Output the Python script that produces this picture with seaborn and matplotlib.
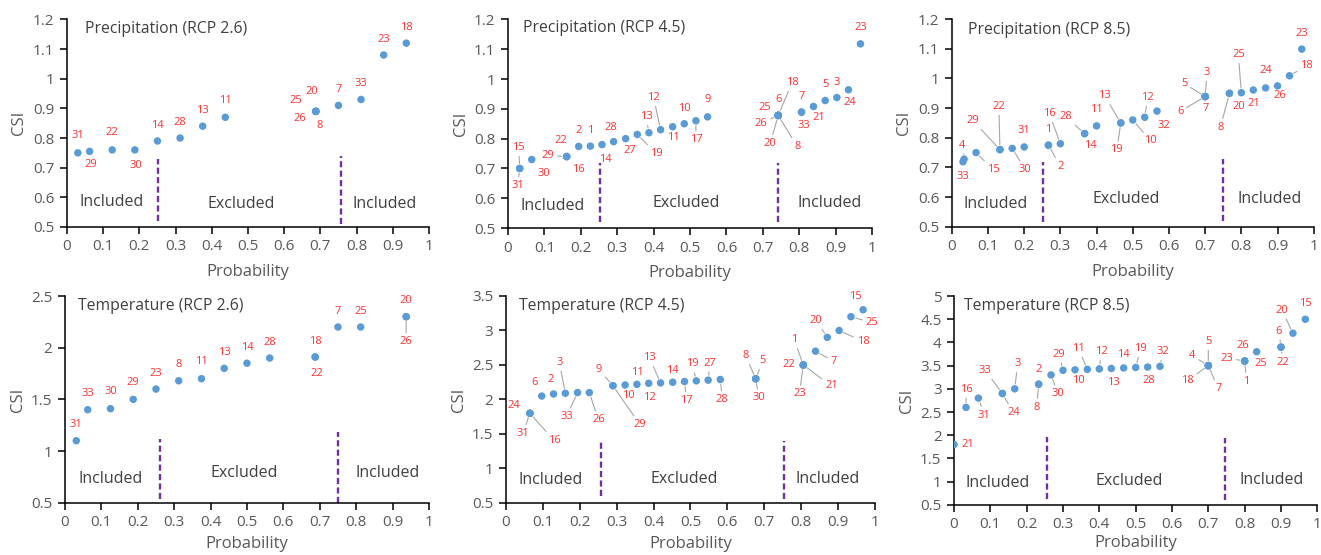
import matplotlib
matplotlib.use("Agg")
import matplotlib.pyplot as plt
import seaborn as sns
import pandas as pd
from matplotlib.ticker import FuncFormatter, MultipleLocator

sns.set_style("ticks")
plt.rcParams['font.family'] = ['Open Sans', 'DejaVu Sans']

# ---------------- data ----------------
# Precipitation RCP 2.6
P26_PROB = [0.03, 0.0625, 0.125, 0.1875, 0.25, 0.3125, 0.375, 0.4375, 0.6875, 0.6875, 0.6875, 0.6875, 0.75, 0.8125, 0.875, 0.9375]
P26_CSI = [0.75, 0.755, 0.76, 0.76, 0.79, 0.80, 0.84, 0.87, 0.89, 0.89, 0.89, 0.89, 0.91, 0.93, 1.08, 1.12]
P26_IDS = [31, 29, 22, 30, 14, 28, 13, 11, 25, 20, 26, 8, 7, 33, 23, 18]

# Precipitation RCP 4.5
P45_PROB = [0.032, 0.032, 0.065, 0.161, 0.161, 0.161, 0.194, 0.226, 0.258, 0.290, 0.323, 0.355, 0.387, 0.419, 0.452, 0.484,
            0.516, 0.548, 0.742, 0.742, 0.742, 0.742, 0.742, 0.742, 0.806, 0.806, 0.839, 0.871, 0.903, 0.935, 0.968]
P45_CSI = [0.70, 0.70, 0.73, 0.74, 0.74, 0.74, 0.774, 0.775, 0.78, 0.79, 0.80, 0.814, 0.82, 0.83, 0.84, 0.85,
           0.86, 0.873, 0.878, 0.878, 0.878, 0.878, 0.878, 0.878, 0.889, 0.889, 0.908, 0.928, 0.938, 0.964, 1.118]
P45_IDS = [15, 31, 30, 22, 29, 16, 2, 1, 14, 28, 27, 19, 13, 12, 11, 10, 17, 9, 25, 6, 18, 26, 20, 8, 7, 33, 21, 5, 3, 24, 23]

# Precipitation RCP 8.5
P85_PROB = [0.031, 0.034, 0.067, 0.133, 0.133, 0.167, 0.2, 0.267, 0.267, 0.3, 0.367, 0.367, 0.4, 0.467, 0.467,
            0.5, 0.533, 0.567, 0.7, 0.7, 0.7, 0.7, 0.767, 0.767, 0.8, 0.833, 0.867, 0.9, 0.933, 0.967]
P85_CSI = [0.719, 0.728, 0.75, 0.76, 0.76, 0.764, 0.769, 0.775, 0.775, 0.78, 0.814, 0.814, 0.84, 0.85, 0.85,
           0.86, 0.869, 0.89, 0.939, 0.939, 0.939, 0.939, 0.95, 0.95, 0.952, 0.961, 0.968, 0.975, 1.009, 1.099]
P85_IDS = [33, 4, 15, 29, 22, 30, 31, 1, 2, 16, 28, 14, 11, 13, 19, 10, 12, 32, 5, 3, 6, 7, 8, 20, 25, 21, 24, 26, 18, 23]

# Temperature RCP 2.6
T26_PROB = [0.031, 0.0625, 0.125, 0.1875, 0.25, 0.3125, 0.375, 0.4375, 0.5, 0.5625, 0.6875, 0.6875, 0.75, 0.8125, 0.9375, 0.9375]
T26_CSI = [1.1, 1.4, 1.41, 1.5, 1.6, 1.68, 1.7, 1.8, 1.85, 1.9, 1.91, 1.91, 2.2, 2.2, 2.3, 2.3]
T26_IDS = [31, 33, 30, 29, 23, 8, 11, 13, 14, 28, 18, 22, 7, 25, 20, 26]

# Temperature RCP 4.5
T45_PROB = [0.065, 0.065, 0.065, 0.097, 0.129, 0.161, 0.194, 0.226, 0.290, 0.290, 0.323, 0.355, 0.387, 0.419, 0.452, 0.484,
            0.516, 0.548, 0.581, 0.677, 0.677, 0.677, 0.806, 0.806, 0.806, 0.806, 0.839, 0.871, 0.903, 0.935, 0.968]
T45_CSI = [1.8, 1.8, 1.8, 2.05, 2.08, 2.09, 2.1, 2.1, 2.2, 2.2, 2.21, 2.22, 2.235, 2.24, 2.25, 2.26,
           2.27, 2.28, 2.29, 2.3, 2.3, 2.3, 2.5, 2.5, 2.5, 2.5, 2.7, 2.9, 3.0, 3.2, 3.3]
T45_IDS = [24, 31, 16, 6, 2, 3, 33, 26, 9, 29, 10, 11, 12, 13, 14, 17, 19, 27, 28, 8, 5, 30, 1, 22, 23, 21, 7, 20, 18, 25, 15]

# Temperature RCP 8.5
T85_PROB = [0.0, 0.033, 0.067, 0.133, 0.133, 0.167, 0.233, 0.233, 0.267, 0.3, 0.333, 0.367, 0.4, 0.433, 0.467,
            0.5, 0.533, 0.567, 0.7, 0.7, 0.7, 0.7, 0.8, 0.8, 0.8, 0.833, 0.9, 0.9, 0.933, 0.967]
T85_CSI = [1.8, 2.6, 2.8, 2.9, 2.9, 3.0, 3.1, 3.1, 3.3, 3.4, 3.41, 3.42, 3.43, 3.44, 3.45,
           3.46, 3.47, 3.485, 3.5, 3.5, 3.5, 3.5, 3.6, 3.6, 3.6, 3.8, 3.9, 3.9, 4.2, 4.5]
T85_IDS = [21, 16, 31, 33, 24, 3, 2, 8, 30, 29, 10, 11, 12, 13, 14, 19, 28, 32, 5, 4, 18, 7, 26, 23, 1, 25, 6, 22, 20, 15]

TITLES = ["Precipitation (RCP 2.6)", "Precipitation (RCP 4.5)", "Precipitation (RCP 8.5)",
          "Temperature (RCP 2.6)", "Temperature (RCP 4.5)", "Temperature (RCP 8.5)"]
ZONE_TEXT = ["Included", "Excluded", "Included"]

# ---------------- layout (label offsets in pixels, leader flag) ----------------
P26_LAB = [(0, 17, 0), (1, -13, 0), (0, 17, 0), (1, -16, 0), (0, 16, 0), (0, 16, 0), (0, 16, 0), (0, 17, 0),
           (-20, 11, 0), (-4, 20, 0), (-16, -7, 0), (4, -14, 0), (0, 16, 0), (0, 16, 0), (0, 16, 0), (0, 16, 0)]
P45_LAB = [(-1, 21, 1), (-2, -17, 1), (12, -14, 0), (-6, 16, 0), (-19, 1, 1), (12, -13, 0), (0, 16, 0), (0, 16, 0),
           (3, -15, 0), (-3, 14, 0), (4, -12, 0), (19, -19, 1), (-3, 16, 1), (-7, 32, 1), (1, -11, 0), (0, 15, 0),
           (0, -19, 1), (0, 17, 0), (-13, 8, 0), (0, 16, 0), (14, 33, 1), (-17, -8, 1), (-8, -28, 1), (19, -31, 1),
           (0, 16, 0), (2, -13, 0), (5, -11, 0), (0, 16, 0), (0, 15, 0), (1, -13, 0), (0, 16, 0)]
P85_LAB = [(0, -15, 0), (-2, 14, 1), (17, -17, 1), (-27, 29, 1), (-1, 43, 1), (13, -21, 1), (0, 16, 0), (0, 16, 0),
           (12, -21, 1), (-11, 30, 1), (-19, 17, 1), (6, -12, 0), (0, 16, 0), (-16, 27, 1), (-4, -27, 1), (18, -21, 1),
           (3, 20, 1), (7, -14, 0), (-21, 13, 1), (2, 24, 1), (-25, -15, 1), (1, -12, 0), (-9, -34, 1), (9, -13, 0),
           (-3, 38, 1), (1, -13, 0), (0, 17, 0), (2, -10, 0), (17, 10, 1), (0, 16, 0)]
T26_LAB = [(0, 16, 0), (0, 16, 0), (0, 17, 0), (0, 17, 0), (0, 16, 0), (0, 16, 0), (0, 17, 0), (0, 16, 0),
           (0, 16, 0), (0, 16, 0), (0, 16, 0), (2, -16, 0), (0, 16, 0), (0, 16, 0), (0, 16, 0), (0, -25, 1)]
T45_LAB = [(-16, 8, 0), (-7, -20, 1), (24, -27, 1), (-7, 14, 0), (-3, 14, 0), (-6, 31, 1), (-11, -24, 1), (9, -27, 1),
           (-14, 16, 1), (27, -39, 1), (3, -11, 0), (0, 12, 0), (1, -14, 0), (-11, 25, 1), (0, 12, 0), (2, -19, 1),
           (-4, 17, 1), (2, 17, 1), (2, -20, 1), (-10, 23, 1), (7, 18, 1), (3, -19, 1), (-9, 25, 1), (-15, 0, 0),
           (-4, -29, 1), (28, -21, 1), (18, -10, 1), (-11, 17, 1), (24, -11, 1), (21, -6, 1), (-8, 13, 0)]
T85_LAB = [(14, 0, 0), (0, 18, 1), (6, -17, 1), (-17, 23, 1), (11, -19, 1), (3, 25, 1), (0, 15, 0), (-2, -23, 1),
           (7, -19, 1), (-4, 16, 1), (3, -11, 0), (-9, 21, 1), (2, 17, 1), (2, -14, 0), (0, 13, 0), (5, 19, 1),
           (1, -13, 0), (3, 15, 1), (0, 24, 1), (-16, 10, 1), (-21, -15, 1), (10, -23, 1), (-2, 16, 0), (-18, 3, 1),
           (2, -20, 1), (4, -12, 0), (-2, 16, 1), (2, -15, 1), (-11, 23, 1), (0, 16, 0)]

PANELS = [
    dict(prob=P26_PROB, csi=P26_CSI, ids=P26_IDS, lab=P26_LAB, ylim=(0.5, 1.2), ystep=0.1,
         pos=[0.0507, 0.591, 0.274, 0.374], title_xy=(0.05, 0.952), xpad=7,
         cuts=[(0.251, 0.52, 0.73), (0.756, 0.51, 0.74)],
         zones=[(0.123, 0.584), (0.482, 0.577), (0.878, 0.579)]),
    dict(prob=P45_PROB, csi=P45_CSI, ids=P45_IDS, lab=P45_LAB, ylim=(0.5, 1.2), ystep=0.1,
         pos=[0.3846, 0.589, 0.2756, 0.376], title_xy=(0.041, 0.96), xpad=7,
         cuts=[(0.253, 0.52, 0.717), (0.741, 0.52, 0.719)],
         zones=[(0.123, 0.575), (0.489, 0.583), (0.883, 0.583)]),
    dict(prob=P85_PROB, csi=P85_CSI, ids=P85_IDS, lab=P85_LAB, ylim=(0.5, 1.2), ystep=0.1,
         pos=[0.7205, 0.5915, 0.274, 0.374], title_xy=(0.046, 0.949), xpad=7,
         cuts=[(0.252, 0.517, 0.719), (0.750, 0.52, 0.73)],
         zones=[(0.122, 0.577), (0.481, 0.592), (0.879, 0.593)]),
    dict(prob=T26_PROB, csi=T26_CSI, ids=T26_IDS, lab=T26_LAB, ylim=(0.5, 2.5), ystep=0.5,
         pos=[0.0492, 0.0942, 0.2755, 0.3724], title_xy=(0.037, 0.953), xpad=4,
         cuts=[(0.261, 0.54, 1.12), (0.751, 0.5, 1.18)],
         zones=[(0.126, 0.726), (0.493, 0.784), (0.886, 0.784)]),
    dict(prob=T45_PROB, csi=T45_CSI, ids=T45_IDS, lab=T45_LAB, ylim=(0.5, 3.5), ystep=0.5,
         pos=[0.383, 0.0937, 0.2793, 0.373], title_xy=(0.035, 0.953), xpad=4,
         cuts=[(0.257, 0.6, 1.38), (0.753, 0.56, 1.4)],
         zones=[(0.122, 0.83), (0.483, 0.854), (0.872, 0.854)]),
    dict(prob=T85_PROB, csi=T85_CSI, ids=T85_IDS, lab=T85_LAB, ylim=(0.5, 5.0), ystep=0.5,
         pos=[0.7222, 0.0905, 0.275, 0.376], title_xy=(0.027, 0.954), xpad=2,
         cuts=[(0.255, 0.62, 1.97), (0.745, 0.61, 1.94)],
         zones=[(0.119, 0.98), (0.481, 1.02), (0.875, 1.04)]),
]

BLUE = "#5B9BD5"
RED = "#FF3030"
GREY_TXT = "#595959"
LEADER = "#A6A6A6"
PURPLE = "#7030A0"

fig = plt.figure(figsize=(13.21, 5.55), dpi=100)
fmt = FuncFormatter(lambda v, p: f"{round(v, 2):g}")

for i, p in enumerate(PANELS):
    ax = fig.add_axes(p["pos"])
    df = pd.DataFrame({"Probability": p["prob"], "CSI": p["csi"], "id": p["ids"]})
    sns.scatterplot(data=df, x="Probability", y="CSI", ax=ax, color=BLUE, s=29,
                    edgecolor="none", linewidth=0, zorder=3)
    ax.set_xlim(0, 1)
    ax.set_ylim(*p["ylim"])
    ax.xaxis.set_major_locator(MultipleLocator(0.1))
    ax.yaxis.set_major_locator(MultipleLocator(p["ystep"]))
    ax.xaxis.set_major_formatter(fmt)
    ax.yaxis.set_major_formatter(fmt)
    for s in ["top", "right"]:
        ax.spines[s].set_visible(False)
    for s in ["left", "bottom"]:
        ax.spines[s].set_color("#000000")
        ax.spines[s].set_linewidth(1.1)
    ax.tick_params(axis="both", direction="out", length=5, width=1.1, color="#000000",
                   labelsize=11, labelcolor=GREY_TXT, pad=4)
    ax.set_xlabel("Probability", fontsize=12, color=GREY_TXT, labelpad=p["xpad"])
    ax.set_ylabel("CSI", fontsize=12, color=GREY_TXT, labelpad=4)
    ax.text(p["title_xy"][0], p["title_xy"][1], TITLES[i], transform=ax.transAxes,
            ha="left", va="center", fontsize=11.3, color="#404040")
    for (xc, y0, y1) in p["cuts"]:
        ax.plot([xc, xc], [y0, y1], color=PURPLE, lw=1.7, linestyle=(0, (2.6, 1.4)), zorder=2)
    for (zx, zy), zt in zip(p["zones"], ZONE_TEXT):
        ax.text(zx, zy, zt, ha="center", va="center", fontsize=11.5, color="#404040")
    for x, y, lab, (dx, dy, lead) in zip(p["prob"], p["csi"], p["ids"], p["lab"]):
        kw = {}
        if lead:
            kw["arrowprops"] = dict(arrowstyle="-", color=LEADER, lw=0.8, shrinkA=0, shrinkB=3.5)
        ax.annotate(str(lab), xy=(x, y), xytext=(dx, dy), textcoords="offset pixels",
                    ha="center", va="center", fontsize=8, color=RED, zorder=4,
                    annotation_clip=False, **kw)

fig.savefig("out.png", dpi=100)
